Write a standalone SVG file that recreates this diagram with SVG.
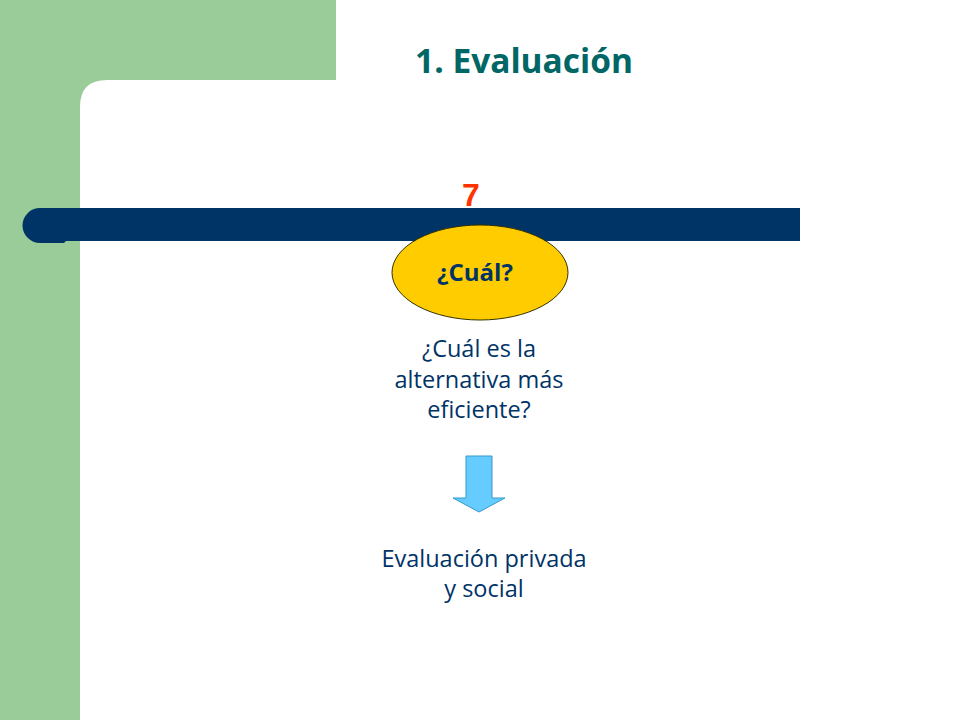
<svg xmlns="http://www.w3.org/2000/svg" width="960" height="720" viewBox="0 0 960 720">
<style>
.t{font-family:"Open Sans","DejaVu Sans",sans-serif;fill:#003366;text-anchor:middle}
.body{font-size:23.5px}
</style>
<rect width="960" height="720" fill="#ffffff"/>
<g id="background">
<path d="M0 0H336V80H107Q80 80 80 107V720H0Z" fill="#99CC99"/>
</g>
<g id="title">
<text x="524" y="73" font-family="'Open Sans','DejaVu Sans',sans-serif" font-weight="bold" font-size="34" fill="#006666" text-anchor="middle" textLength="218" lengthAdjust="spacingAndGlyphs">1. Evaluación</text>
</g>
<g id="bar">
<path d="M40 208H800V241H66L64 243H40A17 17 0 0 1 40 208Z" fill="#003366"/>
</g>
<g id="number">
<text x="471" y="206" font-family="'Liberation Sans',sans-serif" font-weight="bold" font-size="32" fill="#FF3300" text-anchor="middle">7</text>
</g>
<g id="node-cual">
<ellipse cx="480" cy="272.5" rx="88" ry="47.5" fill="#FFCC00" stroke="#333300" stroke-width="1"/>
<text class="t" x="475" y="281" font-size="24" font-weight="bold">¿Cuál?</text>
</g>
<g id="question">
<text class="t body" x="479" y="357">¿Cuál es la</text>
<text class="t body" x="479" y="388">alternativa más</text>
<text class="t body" x="479" y="418">eficiente?</text>
</g>
<g id="connectors">
<path d="M466 456H492V498H505L479 512L453 498H466Z" fill="#66CCFF" stroke="#3399CC" stroke-width="1"/>
</g>
<g id="result">
<text class="t body" x="484" y="567">Evaluación privada</text>
<text class="t body" x="484" y="597">y social</text>
</g>
</svg>
